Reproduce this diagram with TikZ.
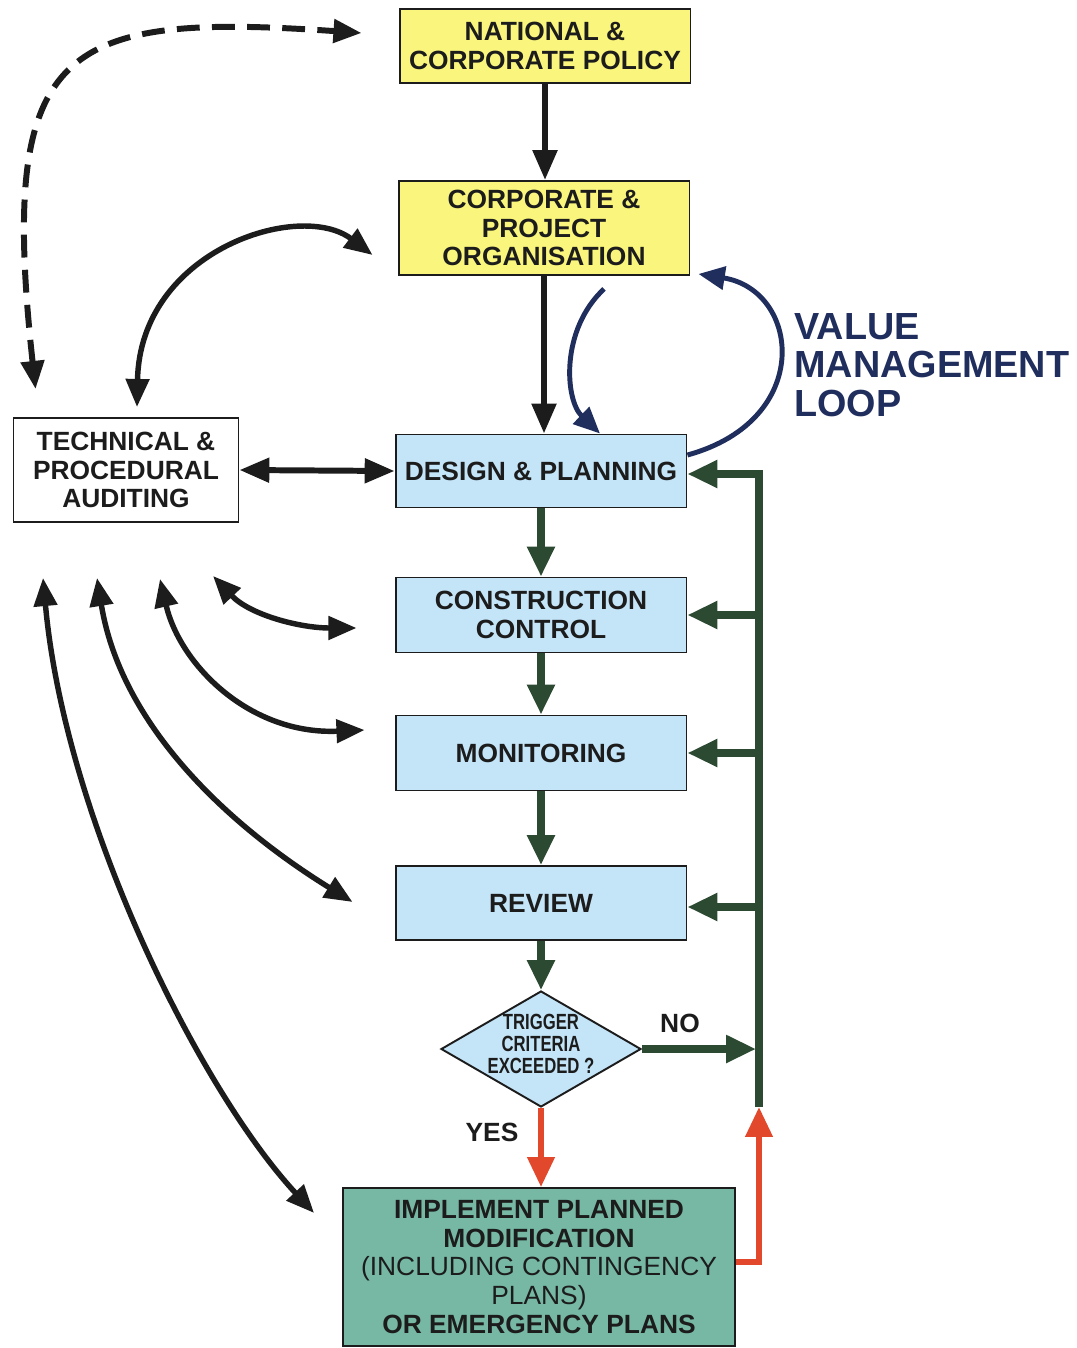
\documentclass[tikz,border=0pt]{standalone}
\usepackage{fontspec}
\setmainfont{Liberation Sans}
\newfontfamily\narrowfont[FakeStretch=0.76]{Liberation Sans}
\usetikzlibrary{arrows.meta,shapes.geometric,calc}
\definecolor{boxyellow}{RGB}{250,246,125}
\definecolor{boxblue}{RGB}{196,228,248}
\definecolor{boxteal}{RGB}{118,184,164}
\definecolor{flowgreen}{RGB}{44,74,50}
\definecolor{flowred}{RGB}{226,72,44}
\definecolor{loopnavy}{RGB}{32,46,94}
\definecolor{inkdark}{RGB}{28,28,28}
\begin{document}
\begin{tikzpicture}[x=0.02cm,y=-0.02cm,
  box/.style={draw=inkdark, line width=1.1pt, align=center, text=inkdark,
    font=\bfseries\fontsize{15}{16.3}\selectfont, inner sep=0pt},
  yellowbox/.style={box, fill=boxyellow, minimum width=5.82cm},
  bluebox/.style={box, fill=boxblue, minimum width=5.82cm},
  blackarrow/.style={draw=inkdark, line width=3.4pt, -{Triangle[length=17pt,width=13.5pt]}},
  twoway/.style={draw=inkdark, line width=3.1pt, {Triangle[length=16pt,width=13pt]}-{Triangle[length=16pt,width=13pt]}},
  dashway/.style={twoway, line width=3.4pt, dash pattern=on 13pt off 7pt},
  greenline/.style={draw=flowgreen, line width=4pt},
  greenarrow/.style={greenline, -{Triangle[length=17pt,width=15pt]}},
  redarrow/.style={draw=flowred, line width=3.4pt, -{Triangle[length=17pt,width=15pt]}},
  navyarrow/.style={draw=loopnavy, line width=2.8pt, -{Triangle[length=15pt,width=13pt]}},
  flowlabel/.style={text=inkdark, font=\bfseries\fontsize{15}{16}\selectfont, inner sep=0pt}
]
\useasboundingbox (0,0) rectangle (1076,1348);

% nodes
\node[yellowbox, minimum height=1.48cm] (nat) at (545,46) {NATIONAL \&\\CORPORATE POLICY};
\node[yellowbox, minimum height=1.88cm] (corp) at (544,228) {CORPORATE \&\\PROJECT\\ORGANISATION};
\node[box, fill=white, minimum width=4.5cm, minimum height=2.08cm] (aud) at (126,470) {TECHNICAL \&\\PROCEDURAL\\AUDITING};
\node[bluebox, minimum height=1.46cm] (dp) at (541,471) {DESIGN \& PLANNING};
\node[bluebox, minimum height=1.5cm] (cc) at (541,615) {CONSTRUCTION\\CONTROL};
\node[bluebox, minimum height=1.5cm] (mon) at (541,753) {MONITORING};
\node[bluebox, minimum height=1.48cm] (rev) at (541,903) {REVIEW};
\node[diamond, draw=inkdark, line width=1.1pt, fill=boxblue, minimum width=4cm, minimum height=2.32cm, inner sep=0pt] (dia) at (541,1049) {};
\node[align=center, text=inkdark, inner sep=0pt, font=\narrowfont\bfseries\fontsize{12.5}{12.5}\selectfont] (diatext) at ($(dia)+(0,-5)$) {TRIGGER\\CRITERIA\\EXCEEDED ?};
\node[box, fill=boxteal, minimum width=7.84cm, minimum height=3.16cm, font=\fontsize{15}{16.4}\selectfont] (imp) at (539,1267)
  {\bfseries IMPLEMENT PLANNED\\\bfseries MODIFICATION\\\mdseries (INCLUDING CONTINGENCY\\\mdseries PLANS)\\\bfseries OR EMERGENCY PLANS};
\node[anchor=west, align=left, text=loopnavy, inner sep=0pt, font=\bfseries\fontsize{21.5}{22}\selectfont] (vml) at (794,365) {VALUE\\MANAGEMENT\\LOOP};
\node[flowlabel] (no) at (680,1023) {NO};
\node[flowlabel] (yes) at (492,1132) {YES};

\coordinate (busTop) at (759,474);
\coordinate (busBot) at (759,1107);

% main black flow
\draw[blackarrow] (nat.south) -- (nat.south |- corp.north);
\draw[blackarrow] (corp.south) -- (corp.south |- dp.north);
\draw[draw=inkdark, line width=3.4pt, {Triangle[length=17pt,width=13.5pt]}-{Triangle[length=17pt,width=13.5pt]}] (aud.east) -- (dp.west);

% green flow
\draw[greenarrow] (dp.south) -- (cc.north);
\draw[greenarrow] (cc.south) -- (mon.north);
\draw[greenarrow] (mon.south) -- (rev.north);
\draw[greenarrow] (rev.south) -- (dia.north);
\draw[greenarrow] (busBot) -- (busTop) -- (busTop -| dp.east);
\draw[greenarrow] (cc.east -| busTop) -- (cc.east);
\draw[greenarrow] (mon.east -| busTop) -- (mon.east);
\draw[greenarrow] ($(rev.east -| busTop)+(0,4)$) -- ($(rev.east)+(0,4)$);
\draw[greenarrow] (dia.east) -- ($(dia.east -| busTop)+(-3,0)$);

% red flow
\draw[redarrow] (dia.south) -- (dia.south |- imp.north);
\draw[redarrow] ($(imp.east)+(0,-5)$) -| (busBot);

% auditing curves
\draw[dashway] ($(aud.north west)+(23,-28)$) .. controls (-2,45) and (60,12) .. ($(nat.west)+(-37,-13)$);
\draw[twoway] ($(aud.north)+(11,-10)$) .. controls (140,250) and (300,200) .. ($(corp.west)+(-25,27)$);
\draw[twoway] ($(aud.south)+(87,53)$) .. controls (250,615) and (300,628) .. ($(cc.west)+(-38,13)$);
\draw[twoway] ($(aud.south)+(34,56)$) .. controls (180,665) and (250,735) .. ($(mon.west)+(-30,-23)$);
\draw[twoway] ($(aud.south)+(-29,55)$) .. controls (120,720) and (220,820) .. ($(rev.west)+(-42,-1)$);
\draw[twoway] ($(aud.south)+(-83,55)$) .. controls (65,820) and (200,1090) .. ($(imp.west)+(-28,-54)$);

% value management loop
\draw[navyarrow] ($(corp.south)+(60,13)$) .. controls (560,330) and (565,400) .. ($(dp.north)+(59,0)$);
\draw[navyarrow] ($(dp.east)+(0,-16)$) .. controls (815,420) and (800,290) .. ($(corp.south east)+(8,-2)$);
\end{tikzpicture}
\end{document}
